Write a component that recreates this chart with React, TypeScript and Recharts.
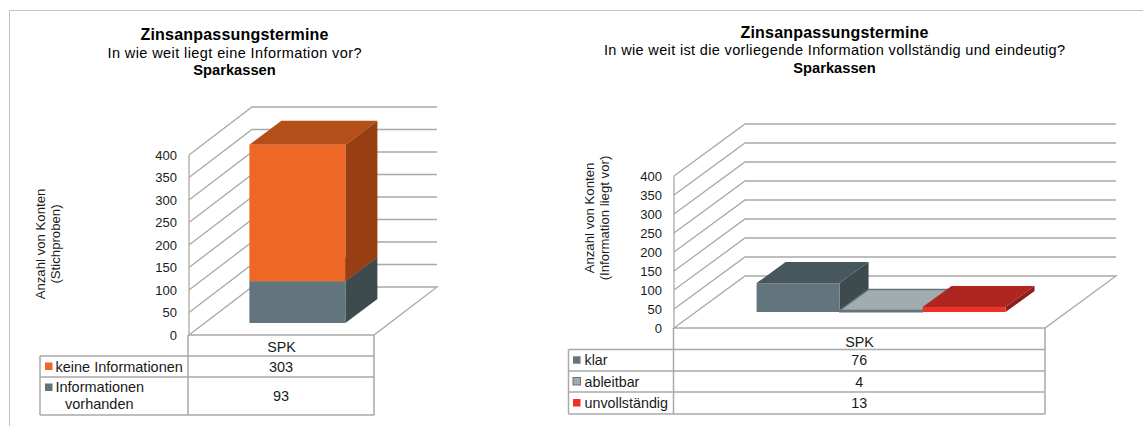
import React from "react";
import { Bar, BarChart, CartesianGrid, XAxis, YAxis } from "recharts";

const categories = ["SPK"];
const valueTicks = [0, 50, 100, 150, 200, 250, 300, 350, 400];

const informationenVorhanden = [93];
const keineInformationen = [303];

const klar = [76];
const ableitbar = [4];
const unvollstaendig = [13];

const leftData = categories.map((name, i) => ({
  name,
  vorhanden: informationenVorhanden[i],
  keine: keineInformationen[i],
}));

const rightData = categories.map((name, i) => ({
  name,
  klar: klar[i],
  ableitbar: ableitbar[i],
  unvollstaendig: unvollstaendig[i],
}));

const FONT = '"Liberation Sans", Arial, sans-serif';
const GRID = "#a9a9a9";
const TEXT = "#1a1a1a";

const TEAL = { front: "#62757c", top: "#48575c", side: "#3e4b4e" };
const ORANGE = { front: "#ee6724", top: "#b54f1a", side: "#973f12" };
const GREY = { front: "#a0acb0", top: "#a0acb0", side: "#8b989c", stroke: "#62757c" };
const RED = { front: "#ee3124", top: "#af2620", side: "#8c1d19" };

type Shade = { front: string; top: string; side: string; stroke?: string };

// recharts gives the front rectangle, the faces around it are pushed back from there
function cuboid(shade: Shade, offX: number, offY: number, depthX: number, depthY: number) {
  return (props: any) => {
    const x = props.x + offX;
    const y = props.y + offY;
    const w = props.width;
    const h = props.height;
    const stroke = shade.stroke ?? "none";
    return (
      <g>
        <path
          d={`M${x},${y}L${x + depthX},${y - depthY}L${x + w + depthX},${y - depthY}L${x + w},${y}Z`}
          fill={shade.top}
          stroke={stroke}
          strokeWidth={1.3}
        />
        <path
          d={`M${x + w},${y}L${x + w + depthX},${y - depthY}L${x + w + depthX},${y + h - depthY}L${x + w},${y + h}Z`}
          fill={shade.side}
          stroke={stroke === "none" ? "none" : shade.side}
        />
        <rect x={x} y={y} width={w} height={h} fill={stroke === "none" ? shade.front : stroke} stroke={stroke} />
      </g>
    );
  };
}

function wallLine(backX: number, backY: number, floorY: number) {
  return (props: any) => {
    const { x1, x2, y1 } = props;
    const isFloor = Math.abs(y1 - floorY) < 1;
    const d = isFloor
      ? `M${x1},${y1}L${x1 + backX},${y1 - backY}L${x2 + backX},${y1 - backY}L${x2},${y1}Z`
      : `M${x1},${y1}L${x1 + backX},${y1 - backY}L${x2 + backX},${y1 - backY}`;
    return <path key={props.key} d={d} fill="none" stroke={GRID} strokeWidth={1.3} />;
  };
}

type Row = { lines: string[]; value: number; color: string; border?: string; top: number; bottom: number };

function ValueTable(props: {
  left: number;
  split: number;
  right: number;
  headTop: number;
  rows: Row[];
  swatchX: number;
  textX: number;
  fontSize: number;
}) {
  const { left, split, right, headTop, rows, swatchX, textX, fontSize } = props;
  const last = rows[rows.length - 1].bottom;
  const first = rows[0].top;
  const line = (x1: number, y1: number, x2: number, y2: number) => (
    <line key={`${x1}-${y1}-${x2}-${y2}`} x1={x1} y1={y1} x2={x2} y2={y2} stroke={GRID} strokeWidth={1.5} />
  );
  return (
    <g fontFamily={FONT} fontSize={fontSize} fill={TEXT}>
      {line(split, headTop, split, last)}
      {line(right, headTop, right, last)}
      {line(left, first, left, last)}
      {line(left, first, right, first)}
      {rows.map((r) => {
        const mid = (r.top + r.bottom) / 2;
        const multi = r.lines.length > 1;
        return (
          <g key={r.lines[0]}>
            {line(left, r.bottom, right, r.bottom)}
            <rect
              x={swatchX}
              y={multi ? r.top + 6.5 : mid - 4}
              width={7.5}
              height={7.5}
              fill={r.color}
              stroke={r.border ?? "none"}
            />
            {multi ? (
              <>
                <text x={textX} y={r.top + 15}>{r.lines[0]}</text>
                <text x={textX + 9.5} y={r.top + 32}>{r.lines[1]}</text>
              </>
            ) : (
              <text x={textX} y={mid + 5}>{r.lines[0]}</text>
            )}
            <text x={(split + right) / 2} y={mid + 5} textAnchor="middle">{r.value}</text>
          </g>
        );
      })}
    </g>
  );
}

function Title(props: { x: number; y: number; gap: number; question: string; questionWidth: number }) {
  const { x, y, gap, question, questionWidth } = props;
  return (
    <g fontFamily={FONT} fill="#000" textAnchor="middle">
      <text x={x} y={y} fontSize={16} fontWeight="bold" textLength={188} lengthAdjust="spacing">Zinsanpassungstermine</text>
      <text x={x} y={y + gap} fontSize={14.5} textLength={questionWidth} lengthAdjust="spacing">{question}</text>
      <text x={x} y={y + gap * 2} fontSize={14.7} fontWeight="bold">Sparkassen</text>
    </g>
  );
}

function AxisTitle(props: { x: number; y: number; lines: string[] }) {
  return (
    <text
      transform={`translate(${props.x},${props.y}) rotate(-90)`}
      textAnchor="middle"
      fontFamily={FONT}
      fontSize={13.2}
      fill={TEXT}
    >
      <tspan x={0} dy={0}>{props.lines[0]}</tspan>
      <tspan x={0} dy={14.5}>{props.lines[1]}</tspan>
    </text>
  );
}

const tickStyle = { fontSize: 13, fontFamily: FONT, fill: TEXT };
const categoryTickStyle = { fontSize: 14.3, fontFamily: FONT, fill: TEXT };

function LeftChart() {
  const shapeArgs = [16, -12, 32, 24] as const;
  return (
    <BarChart
      width={560}
      height={426}
      data={leftData}
      barCategoryGap="24%"
      margin={{ top: 155, right: 186, bottom: 71, left: 159 }}
      style={{ position: "absolute", left: 0, top: 0 }}
    >
      <CartesianGrid vertical={false} horizontal={wallLine(63, 48, 335)} />
      <XAxis dataKey="name" axisLine={false} tickLine={false} tickSize={0} tickMargin={7} height={20} tick={categoryTickStyle} interval={0} />
      <YAxis
        domain={[0, 400]}
        ticks={valueTicks}
        interval={0}
        width={30}
        tickLine={false}
        tickSize={0}
        tickMargin={12}
        axisLine={{ stroke: GRID, strokeWidth: 1.3 }}
        tick={tickStyle}
      />
      <Bar dataKey="vorhanden" stackId="a" isAnimationActive={false} shape={cuboid(TEAL, ...shapeArgs)} />
      <Bar dataKey="keine" stackId="a" isAnimationActive={false} shape={cuboid(ORANGE, ...shapeArgs)} />
      <Title x={234.5} y={40} gap={17.5} question="In wie weit liegt eine Information vor?" questionWidth={254} />
      <AxisTitle x={45} y={244} lines={["Anzahl von Konten", "(Stichproben)"]} />
      <ValueTable
        left={40}
        split={188}
        right={374}
        headTop={335}
        swatchX={45}
        textX={55.5}
        fontSize={14.5}
        rows={[
          { lines: ["keine Informationen"], value: keineInformationen[0], color: ORANGE.front, top: 356, bottom: 377 },
          { lines: ["Informationen", "vorhanden"], value: informationenVorhanden[0], color: TEAL.front, top: 377, bottom: 415 },
        ]}
      />
    </BarChart>
  );
}

function RightChart() {
  const shapeArgs = [21, -16, 29, 21] as const;
  return (
    <BarChart
      width={583}
      height={426}
      data={rightData}
      barCategoryGap="16.6%"
      barGap={0}
      margin={{ top: 176, right: 98, bottom: 78, left: 84 }}
      style={{ position: "absolute", left: 560, top: 0 }}
    >
      <CartesianGrid vertical={false} horizontal={wallLine(71, 52, 328)} />
      <XAxis dataKey="name" axisLine={false} tickLine={false} tickSize={0} tickMargin={8.5} height={20} tick={categoryTickStyle} interval={0} />
      <YAxis
        domain={[0, 400]}
        ticks={valueTicks}
        interval={0}
        width={30}
        tickLine={false}
        tickSize={0}
        tickMargin={12}
        axisLine={{ stroke: GRID, strokeWidth: 1.3 }}
        tick={tickStyle}
      />
      <Bar dataKey="klar" isAnimationActive={false} shape={cuboid(TEAL, ...shapeArgs)} />
      <Bar dataKey="ableitbar" isAnimationActive={false} shape={cuboid(GREY, ...shapeArgs)} />
      <Bar dataKey="unvollstaendig" isAnimationActive={false} shape={cuboid(RED, ...shapeArgs)} />
      <Title x={274.5} y={38} gap={17.4} question="In wie weit ist die vorliegende Information vollständig und eindeutig?" questionWidth={461} />
      <AxisTitle x={34} y={218} lines={["Anzahl von Konten", "(Information liegt vor)"]} />
      <ValueTable
        left={8.5}
        split={113.5}
        right={485}
        headTop={328}
        swatchX={13}
        textX={24.5}
        fontSize={14.3}
        rows={[
          { lines: ["klar"], value: klar[0], color: TEAL.front, top: 349.5, bottom: 371 },
          { lines: ["ableitbar"], value: ableitbar[0], color: GREY.front, border: TEAL.front, top: 371, bottom: 392 },
          { lines: ["unvollständig"], value: unvollstaendig[0], color: RED.front, top: 392, bottom: 414 },
        ]}
      />
    </BarChart>
  );
}

export default function App() {
  return (
    <div style={{ position: "absolute", left: 0, top: 0, width: 1143, height: 426, background: "#fff", overflow: "hidden" }}>
      <div style={{ position: "absolute", left: 9, top: 10, width: 1134, height: 416, borderLeft: "1.5px solid #c4c4c4", borderTop: "1.5px solid #c4c4c4" }} />
      <LeftChart />
      <RightChart />
    </div>
  );
}
